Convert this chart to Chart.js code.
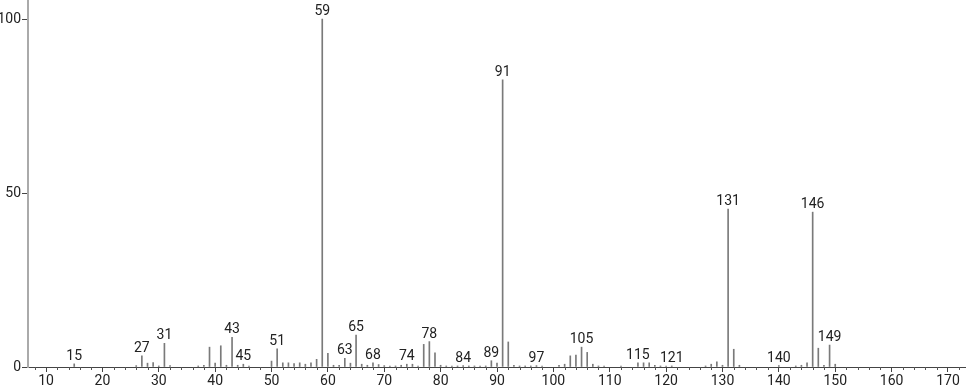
<!DOCTYPE html>
<html>
<head>
<meta charset="utf-8">
<script src="https://cdn.jsdelivr.net/npm/chart.js@4"></script>
<style>
  body { margin: 0; background: #fff; }
</style>
</head>
<body>
<canvas id="msChart" width="966" height="389"></canvas>
<script>
// m/z values and relative intensities
var mz = [15, 26, 27, 28, 29, 30, 31, 32, 37, 38, 39, 40, 41, 42, 43, 44, 45, 46,
  50, 51, 52, 53, 54, 55, 56, 57, 58, 59, 60, 61, 62, 63, 64, 65, 66, 67, 68, 69,
  70, 71, 72, 73, 74, 75, 76, 77, 78, 79, 80, 81, 82, 83, 84, 85, 86, 87, 88, 89,
  90, 91, 92, 93, 94, 95, 96, 97, 98, 101, 102, 103, 104, 105, 106, 107, 108, 109,
  112, 115, 116, 117, 118, 119, 120, 121, 127, 128, 129, 130, 131, 132, 133,
  140, 143, 144, 145, 146, 147, 148, 149, 150];
var intensity = [0.9, 0.4, 3.2, 1.1, 1.3, 0.3, 6.8, 0.4, 0.3, 0.5, 5.7, 1.1, 6.1, 0.5, 8.5, 0.5, 0.8, 0.3,
  1.7, 5.2, 1.2, 1.2, 1.0, 1.2, 0.8, 1.2, 2.2, 100, 3.9, 0.5, 0.5, 2.5, 1.1, 9.2, 0.8, 0.5, 1.2, 0.7,
  0.4, 0.3, 0.3, 0.5, 0.8, 0.8, 0.3, 6.5, 7.3, 4.1, 0.5, 0.3, 0.3, 0.3, 0.4, 0.3, 0.3, 0.3, 0.3, 1.8,
  1.1, 82.5, 7.2, 0.5, 0.3, 0.3, 0.3, 0.4, 0.3, 0.5, 0.8, 3.2, 3.4, 5.7, 4.2, 0.8, 0.3, 0.3,
  0.3, 1.2, 1.2, 1.2, 0.5, 0.3, 0.3, 0.3, 0.3, 0.8, 1.5, 0.5, 45.4, 5.1, 0.5,
  0.4, 0.3, 0.5, 1.2, 44.5, 5.4, 0.5, 6.3, 0.8];
// peaks that get a number above them
var labelled = [15, 27, 31, 43, 45, 51, 59, 63, 65, 68, 74, 78, 84, 89, 91, 97, 105, 115, 121, 131, 140, 146, 149];
var xTicks = [10, 20, 30, 40, 50, 60, 70, 80, 90, 100, 110, 120, 130, 140, 150, 160, 170];
var yTicks = [0, 50, 100];

var points = mz.map(function (m, i) { return { x: m, y: intensity[i] }; });

Chart.defaults.font.family = 'Roboto, "DejaVu Sans", sans-serif';
Chart.defaults.font.size = 14;
Chart.defaults.color = '#222';

// peak numbers and the small ticks between the labelled ones
var peakLabels = {
  id: 'peakLabels',
  afterDatasetsDraw: function (chart) {
    var c = chart.ctx, xs = chart.scales.x, ys = chart.scales.y;
    c.save();
    c.font = '14px ' + Chart.defaults.font.family;
    c.fillStyle = '#222';
    c.textAlign = 'center';
    c.textBaseline = 'alphabetic';
    labelled.forEach(function (m) {
      var v = intensity[mz.indexOf(m)];
      c.fillText(String(m), xs.getPixelForValue(m), ys.getPixelForValue(v) - 4);
    });
    c.strokeStyle = '#555';
    c.lineWidth = 1;
    c.beginPath();
    for (var t = 8; t <= 172; t += 2) {
      if (t % 10 === 0) continue;
      var px = Math.round(xs.getPixelForValue(t)) + 0.5;
      c.moveTo(px, xs.top);
      c.lineTo(px, xs.top + 3);
    }
    c.stroke();
    c.restore();
  }
};

var chart = new Chart(document.getElementById('msChart').getContext('2d'), {
  type: 'bar',
  data: {
    datasets: [{
      data: points,
      backgroundColor: '#7a7a7a',
      borderWidth: 0,
      barThickness: 1
    }]
  },
  options: {
    responsive: false,
    animation: false,
    layout: { padding: 0 },
    plugins: { legend: { display: false }, tooltip: { enabled: false } },
    scales: {
      x: {
        type: 'linear',
        offset: false,
        min: 6.8,
        max: 173.2,
        afterBuildTicks: function (s) { s.ticks = xTicks.map(function (v) { return { value: v }; }); },
        afterFit: function (s) { s.height = 22; s.paddingLeft = 0; s.paddingRight = 0; },
        grid: { drawOnChartArea: false, offset: false, tickLength: 5, color: '#444' },
        border: { color: '#444', width: 1 },
        ticks: { padding: 1, maxRotation: 0, autoSkip: false }
      },
      y: {
        min: 0,
        max: 105.46,
        afterBuildTicks: function (s) { s.ticks = yTicks.map(function (v) { return { value: v }; }); },
        afterFit: function (s) { s.width = 28; s.paddingTop = 0; s.paddingBottom = 0; },
        grid: { drawOnChartArea: false, tickLength: 6, color: '#444' },
        border: { color: '#aaa', width: 2 },
        ticks: { padding: 1 }
      }
    }
  },
  plugins: [peakLabels]
});
</script>
</body>
</html>
